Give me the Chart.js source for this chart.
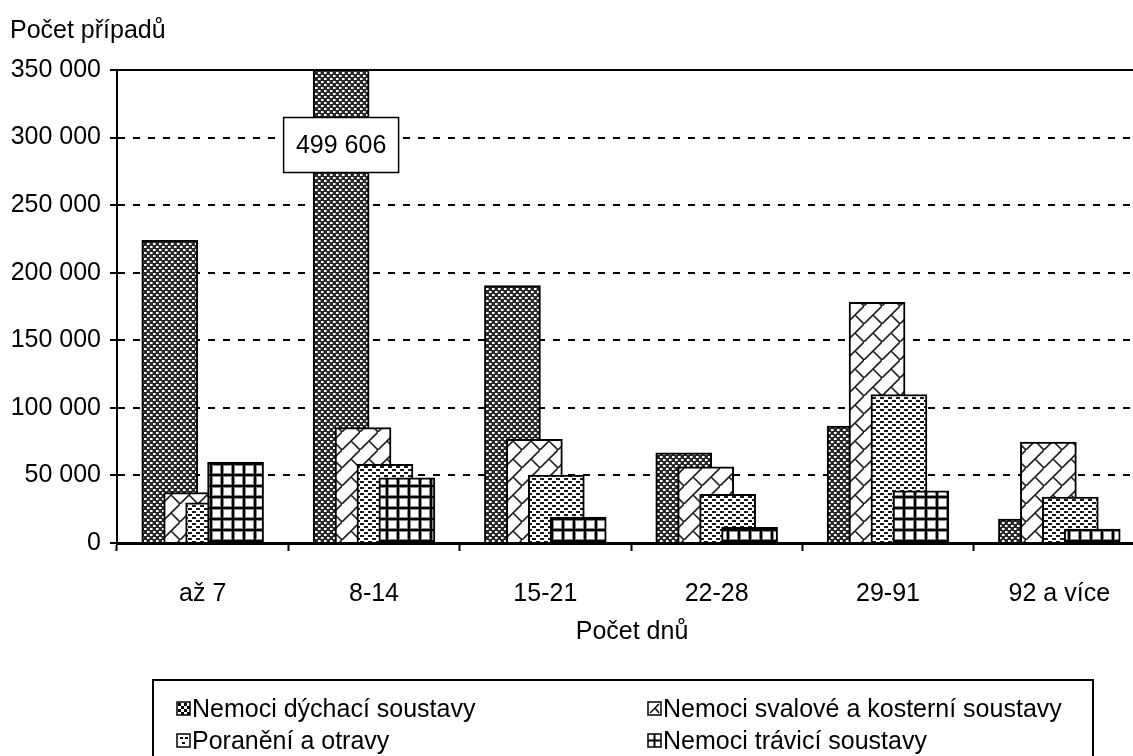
<!DOCTYPE html>
<html>
<head>
<meta charset="utf-8">
<script src="https://cdn.jsdelivr.net/npm/chart.js@4/dist/chart.umd.min.js"></script>
<style>
html, body { margin: 0; padding: 0; background: #fff; overflow: hidden; }
#wrap { width: 1133px; height: 756px; overflow: hidden; position: relative; }
#chart-area1 { position: absolute; left: 0; top: 0; }
</style>
</head>
<body>
<div id="wrap"><canvas id="chart-area1" width="1150" height="756"></canvas></div>
<script>
// data
var Kategorie = ['až 7', '8-14', '15-21', '22-28', '29-91', '92 a více'];
var NazvySerii = ['Nemoci dýchací soustavy', 'Nemoci svalové a kosterní soustavy', 'Poranění a otravy', 'Nemoci trávicí soustavy'];
var Dychaci = [224000, 499606, 190500, 66700, 86600, 17700];
var Svalove = [37400, 85400, 76800, 56400, 178000, 74600];
var Poraneni = [29800, 58300, 50200, 36000, 109800, 34000];
var Travici = [59800, 48200, 19200, 11600, 38600, 10300];
var PopiskyY = ['0', '50 000', '100 000', '150 000', '200 000', '250 000', '300 000', '350 000'];
var PopisekOrez = '499 606';

var FONT = "'Liberation Sans', Arial, sans-serif";
var FS = 25;

// vzory vyplne (Excel patterns)
function vzor(typ) {
    var c = document.createElement('canvas');
    var g = c.getContext('2d');
    if (typ == 0) {
        c.width = 6; c.height = 6;
        g.fillStyle = '#2a2a2a'; g.fillRect(0, 0, 6, 6);
        g.fillStyle = '#fff'; g.fillRect(0, 0, 2, 2); g.fillRect(3, 3, 2, 2);
        g.fillStyle = '#9a9a9a'; g.fillRect(2, 0, 1, 2); g.fillRect(5, 3, 1, 2);
    } else if (typ == 1) {
        c.width = 18; c.height = 18;
        g.fillStyle = '#fff'; g.fillRect(0, 0, 18, 18);
        g.strokeStyle = '#222'; g.lineWidth = 1.6;
        g.beginPath();
        g.moveTo(-1, 19); g.lineTo(19, -1);
        g.moveTo(9, 9); g.lineTo(19, 19);
        g.stroke();
    } else if (typ == 2) {
        c.width = 8; c.height = 6;
        g.fillStyle = '#fff'; g.fillRect(0, 0, 8, 6);
        g.fillStyle = '#1a1a1a';
        g.fillRect(0, 1, 4, 2);
        g.fillRect(4, 4, 4, 2);
    } else {
        c.width = 11; c.height = 11;
        g.fillStyle = '#fff'; g.fillRect(0, 0, 11, 11);
        g.fillStyle = '#888'; g.fillRect(0, 0, 11, 4); g.fillRect(0, 0, 4, 11);
        g.fillStyle = '#000'; g.fillRect(0, 1, 11, 2); g.fillRect(1, 0, 2, 11);
    }
    return document.getElementById('chart-area1').getContext('2d').createPattern(c, 'repeat');
}

var posun = 0.128; // prekryv sloupcu v ramci kategorie
var serie = [Dychaci, Svalove, Poraneni, Travici];
var datasets = [];
for (var k = 0; k < serie.length; k++) {
    var body = [];
    for (var i = 0; i < Kategorie.length; i++) {
        body.push({ x: i + (k - 1.5) * posun, y: serie[k][i] });
    }
    datasets.push({
        label: NazvySerii[k],
        data: body,
        xAxisID: 'xb',
        backgroundColor: vzor(k),
        borderColor: '#000',
        borderWidth: 2,
        barThickness: 56,
        grouped: false,
        order: serie.length - 1 - k
    });
}

function ikona(ctx, k, x, y) {
    var s = 13;
    ctx.save();
    ctx.fillStyle = '#fff';
    ctx.fillRect(x, y, s, s);
    ctx.fillStyle = '#000';
    ctx.strokeStyle = '#000';
    ctx.lineWidth = 1.5;
    if (k == 0) {
        for (var a = 0; a < 4; a++) for (var b = 0; b < 4; b++) if ((a + b) % 2 == 0) ctx.fillRect(x + 1 + a * 3, y + 1 + b * 3, 3, 3);
    } else if (k == 1) {
        ctx.beginPath(); ctx.moveTo(x + 2, y + s - 2); ctx.lineTo(x + s - 2, y + 2);
        ctx.moveTo(x + 7, y + 6); ctx.lineTo(x + s - 2, y + s - 2); ctx.stroke();
    } else if (k == 2) {
        ctx.fillRect(x + 3, y + 3, 3, 2); ctx.fillRect(x + 8, y + 3, 3, 2);
        ctx.fillRect(x + 5, y + 8, 3, 2);
    } else {
        ctx.fillRect(x + 5.5, y, 2, s); ctx.fillRect(x, y + 5.5, s, 2);
    }
    ctx.lineWidth = 1.5;
    ctx.strokeRect(x, y, s, s);
    ctx.restore();
}

var doplnky = {
    id: 'doplnky',
    afterDraw: function (chart) {
        var ctx = chart.ctx;
        var a = chart.chartArea;
        ctx.save();
        // horni cara
        ctx.strokeStyle = '#000'; ctx.lineWidth = 2;
        ctx.beginPath(); ctx.moveTo(a.left, a.top); ctx.lineTo(a.right, a.top); ctx.stroke();
        ctx.font = FS + 'px ' + FONT;
        ctx.fillStyle = '#000';
        ctx.textBaseline = 'middle';
        // popisek osy Y
        ctx.textAlign = 'left';
        ctx.fillText('Počet případů', 10, 31);
        // popisek osy X
        ctx.textAlign = 'center';
        ctx.fillText('Počet dnů', 632, 632);
        // popisek orezaneho sloupce
        var el = chart.getDatasetMeta(0).data[1];
        var w = 115, h = 55, cy = a.top + 75;
        ctx.fillStyle = '#fff';
        ctx.fillRect(el.x - w / 2, cy - h / 2, w, h);
        ctx.lineWidth = 1.5; ctx.strokeStyle = '#000';
        ctx.strokeRect(el.x - w / 2, cy - h / 2, w, h);
        ctx.fillStyle = '#000';
        ctx.fillText(PopisekOrez, el.x, cy + 1);
        // legenda
        ctx.lineWidth = 2;
        ctx.strokeRect(153, 680, 940, 100);
        var sloupce = [177, 648], radky = [709, 741];
        ctx.textAlign = 'left';
        for (var k = 0; k < NazvySerii.length; k++) {
            var sx = sloupce[k % 2], sy = radky[Math.floor(k / 2)];
            ikona(ctx, k, sx, sy - 7);
            ctx.fillStyle = '#000';
            ctx.fillText(NazvySerii[k], sx + 15, sy + 1);
        }
        ctx.restore();
    }
};

var config = {
    type: 'bar',
    data: { labels: Kategorie, datasets: datasets },
    options: {
        responsive: false,
        animation: false,
        events: [],
        layout: { padding: { left: 0, top: 70, right: 5, bottom: 0 } },
        plugins: { legend: { display: false }, tooltip: { enabled: false } },
        scales: {
            x: {
                type: 'category',
                offset: true,
                grid: { offset: true, drawOnChartArea: false, drawTicks: true, tickLength: 8, tickWidth: 2, tickColor: '#000' },
                border: { display: true, color: '#000', width: 3 },
                ticks: { color: '#000', font: { family: FONT, size: FS }, padding: 28, maxRotation: 0 },
                afterFit: function (s) { s.height = 213; }
            },
            xb: { type: 'linear', min: -0.5, max: 5.5, offset: false, display: false },
            y: {
                min: 0, max: 350000,
                ticks: {
                    stepSize: 50000, color: '#000', padding: 9,
                    font: { family: FONT, size: FS },
                    callback: function (v) { return PopiskyY[Math.round(v / 50000)]; }
                },
                grid: {
                    color: function (c) { return (c.tick && (c.tick.value == 0 || c.tick.value == 350000)) ? 'rgba(0,0,0,0)' : '#000'; },
                    lineWidth: 2, tickLength: 7, tickWidth: 2, tickColor: '#000'
                },
                border: { display: true, color: '#000', width: 2, dash: [7, 8] },
                afterFit: function (s) { s.width = 117; }
            }
        }
    },
    plugins: [doplnky]
};

var ctx = document.getElementById('chart-area1').getContext('2d');
var myBar = new Chart(ctx, config);
</script>
</body>
</html>
